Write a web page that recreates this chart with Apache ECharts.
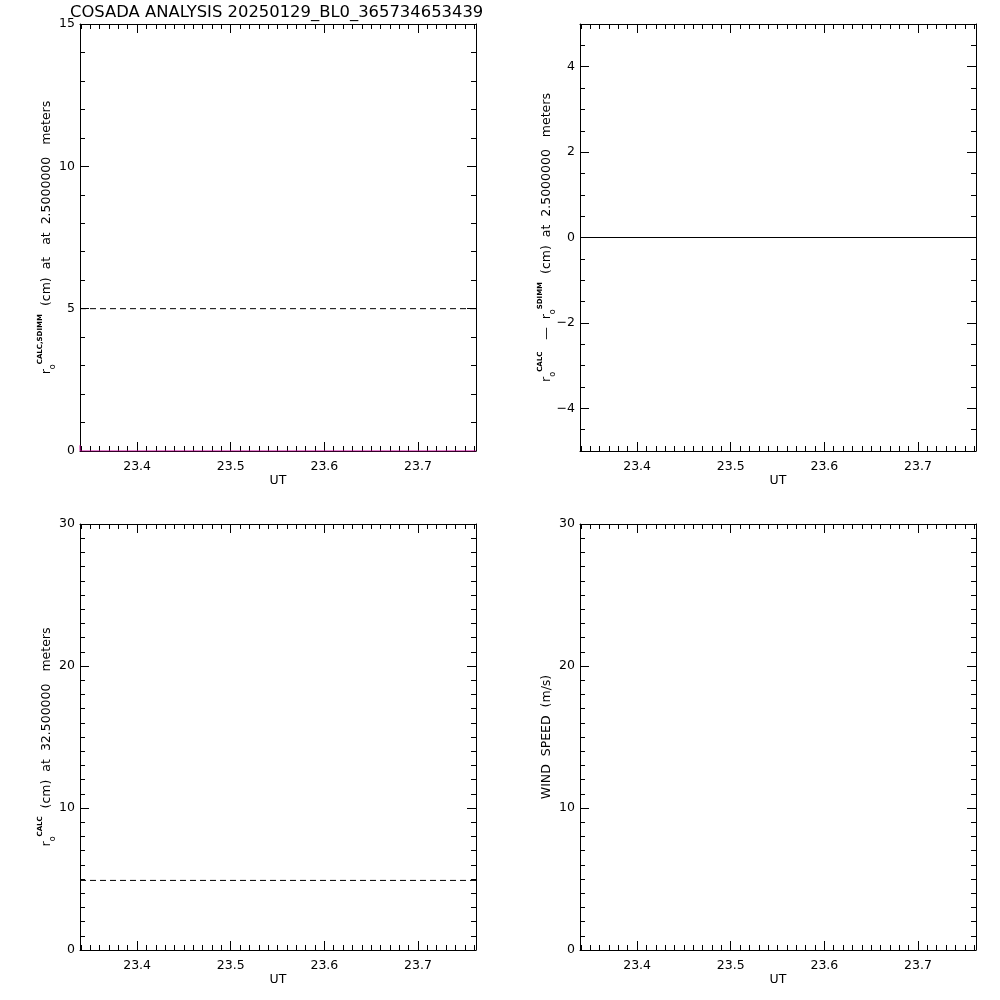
<!DOCTYPE html>
<html>
<head>
<meta charset="utf-8">
<script src="https://cdn.jsdelivr.net/npm/echarts@6/dist/echarts.min.js"></script>
<style>html,body{margin:0;padding:0;background:#fff}#c{width:1000px;height:1000px}</style>
</head>
<body>
<div id="c"></div>
<script>
// ---- data ----
const titleText = 'COSADA ANALYSIS 20250129_BL0_365734653439';
const utExtent = [23.339, 23.762];
const xTickLabels = [23.4, 23.5, 23.6, 23.7];
const yTicksTL = [0, 5, 10, 15];
const yTicksTR = [-4, -2, 0, 2, 4];
const yTicksBL = [0, 10, 20, 30];
const yTicksBR = [0, 10, 20, 30];
const yExtentTL = [0, 15];
const yExtentTR = [-5, 5];
const yExtentBL = [0, 30];
const yExtentBR = [0, 30];

// top-left: r0 CALC/SDIMM reference (dashed) and measured values (magenta)
const tlRefUT = [23.339, 23.762];
const tlRefVal = [5.0, 5.0];
const tlMeasUT = [23.339, 23.3391, 23.762];
const tlMeasVal = [0.2, 0.0, 0.0];
// top-right: difference
const trUT = [23.339, 23.762];
const trVal = [0.0, 0.0];
// bottom-left: r0 CALC at 32.5 m (dashed)
const blUT = [23.339, 23.762];
const blVal = [4.9, 4.9];
// bottom-right: wind speed (no data)
const brUT = [];
const brVal = [];

const FONT = 'DejaVu Sans';
const grids = [
  {left: 80, top: 24, width: 396, height: 427},
  {left: 580, top: 24, width: 396, height: 427},
  {left: 80, top: 524, width: 396, height: 426},
  {left: 580, top: 524, width: 396, height: 426}
];
const yTicks = [yTicksTL, yTicksTR, yTicksBL, yTicksBR];
const yExt = [yExtentTL, yExtentTR, yExtentBL, yExtentBR];
const yMinorStep = [1, 0.5, 1, 1];

function steps(a, b, s) {
  const out = [];
  const n = Math.round((b - a) / s);
  for (let k = 0; k <= n; k++) out.push(+(a + k * s).toFixed(4));
  return out;
}
const xMinor = steps(23.34, 23.76, 0.01);

const xAxes = [], yAxes = [];
const black = {color: '#000', width: 1};
grids.forEach((g, i) => {
  const xb = {type: 'value', gridIndex: i, min: utExtent[0], max: utExtent[1], splitLine: {show: false},
    axisLine: {show: true, onZero: false, lineStyle: black}};
  xAxes.push(Object.assign({}, xb, {position: 'bottom',
    axisTick: {show: true, inside: true, length: 9, lineStyle: black, customValues: xTickLabels},
    axisLabel: {show: true, customValues: xTickLabels, formatter: v => (+v).toFixed(1), margin: 9,
      fontFamily: FONT, fontSize: 12.5, color: '#000'}}));
  xAxes.push(Object.assign({}, xb, {position: 'bottom', axisLine: {show: false, onZero: false},
    axisTick: {show: true, inside: true, length: 5, lineStyle: black, customValues: xMinor},
    axisLabel: {show: false}}));
  xAxes.push(Object.assign({}, xb, {position: 'top',
    axisTick: {show: true, inside: true, length: 9, lineStyle: black, customValues: xTickLabels},
    axisLabel: {show: false}}));
  xAxes.push(Object.assign({}, xb, {position: 'top', axisLine: {show: false, onZero: false},
    axisTick: {show: true, inside: true, length: 5, lineStyle: black, customValues: xMinor},
    axisLabel: {show: false}}));

  const ym = steps(yExt[i][0], yExt[i][1], yMinorStep[i]);
  const yb = {type: 'value', gridIndex: i, min: yExt[i][0], max: yExt[i][1], splitLine: {show: false},
    axisLine: {show: true, onZero: false, lineStyle: black}};
  yAxes.push(Object.assign({}, yb, {position: 'left',
    axisTick: {show: true, inside: true, length: 9, lineStyle: black, customValues: yTicks[i]},
    axisLabel: {show: true, customValues: yTicks[i], margin: 5, fontFamily: FONT, fontSize: 12.5, color: '#000',
      formatter: v => String(v).replace('-', '\u2212')}}));
  yAxes.push(Object.assign({}, yb, {position: 'left', axisLine: {show: false, onZero: false},
    axisTick: {show: true, inside: true, length: 5, lineStyle: black, customValues: ym},
    axisLabel: {show: false}}));
  yAxes.push(Object.assign({}, yb, {position: 'right',
    axisTick: {show: true, inside: true, length: 9, lineStyle: black, customValues: yTicks[i]},
    axisLabel: {show: false}}));
  yAxes.push(Object.assign({}, yb, {position: 'right', axisLine: {show: false, onZero: false},
    axisTick: {show: true, inside: true, length: 5, lineStyle: black, customValues: ym},
    axisLabel: {show: false}}));
});

function pairs(xs, ys) { return xs.map((x, k) => [x, ys[k]]); }
function lineSeries(i, xs, ys, color, type) {
  return {type: 'line', xAxisIndex: i * 4, yAxisIndex: i * 4, data: pairs(xs, ys), symbol: 'none',
    silent: true, animation: false, clip: true,
    lineStyle: {color: color, width: 1, type: type}};
}
const series = [
  lineSeries(0, tlRefUT, tlRefVal, '#000', [6, 4]),
  lineSeries(0, tlMeasUT, tlMeasVal, '#c8009a', 'solid'),
  lineSeries(1, trUT, trVal, '#000', 'solid'),
  lineSeries(2, blUT, blVal, '#000', [6, 4]),
  lineSeries(3, brUT, brVal, '#000', 'solid')
];

const rich = {
  n: {fontFamily: FONT, fontSize: 12.5, lineHeight: 20, color: '#000'},
  sub: {fontFamily: FONT, fontSize: 8, lineHeight: 8, verticalAlign: 'bottom', color: '#000'},
  sup: {fontFamily: FONT, fontSize: 7, fontWeight: 'bold', lineHeight: 7, verticalAlign: 'top', color: '#000'}
};
const yLabels = [
  '{n|r}{sub|o}{sup|CALC,SDIMM}{n|  (cm)  at   at  2.5000000   meters}',
  '{n|r}{sub|o}{sup|CALC}{n|   \u2014  r}{sub|o}{sup|SDIMM}{n|  (cm)  at  2.5000000   meters}',
  '{n|r}{sub|o}{sup|CALC}{n|  (cm)  at  32.500000   meters}',
  '{n|WIND  SPEED  (m/s)}'
];
const graphics = [{type: 'text', x: 70, y: 13, style: {text: titleText, fontFamily: FONT, fontSize: 16.4,
  fill: '#000', align: 'left', verticalAlign: 'middle'}}];
grids.forEach((g, i) => {
  graphics.push({type: 'text', x: g.left + g.width / 2, y: g.top + g.height + 30,
    style: {text: 'UT', fontFamily: FONT, fontSize: 12.5, fill: '#000', align: 'center', verticalAlign: 'middle'}});
  graphics.push({type: 'text', x: g.left - 33, y: g.top + g.height / 2, rotation: Math.PI / 2,
    style: {text: yLabels[i], rich: rich, align: 'center', verticalAlign: 'middle', fill: '#000'}});
});

const chart = echarts.init(document.getElementById('c'), null, {renderer: 'canvas'});
chart.setOption({
  backgroundColor: '#fff',
  animation: false,
  grid: grids,
  xAxis: xAxes,
  yAxis: yAxes,
  series: series,
  graphic: graphics
});
</script>
</body>
</html>
